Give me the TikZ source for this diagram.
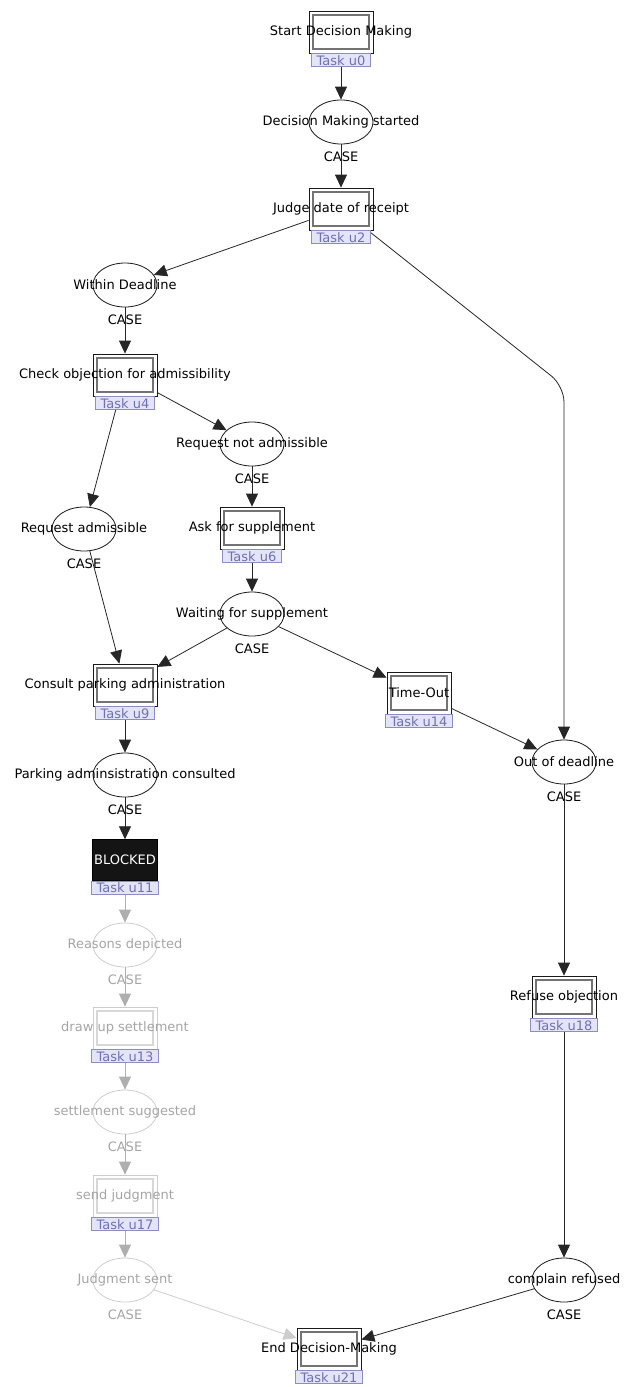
\documentclass[tikz,border=0pt]{standalone}
\usepackage{fontspec}
\setmainfont{DejaVu Sans}
\usetikzlibrary{positioning,arrows.meta,shapes.geometric}
\definecolor{tagfill}{RGB}{228,228,248}
\definecolor{tagline}{RGB}{140,140,200}
\definecolor{tagtext}{RGB}{112,112,180}
\definecolor{ghost}{RGB}{205,205,205}
\definecolor{ghosttext}{RGB}{165,165,165}
\definecolor{ghostarrow}{RGB}{175,175,175}
\begin{document}
\begin{tikzpicture}[x=1pt,y=-1pt,
 font=\fontsize{13}{15}\selectfont,
 task/.style={draw=black!90, line width=0.8pt, minimum width=64pt, minimum height=42pt, inner sep=0pt,
   path picture={\draw[black!55,line width=1.5pt] ([xshift=4pt,yshift=-4pt]path picture bounding box.north west) rectangle ([xshift=-4pt,yshift=4pt]path picture bounding box.south east);}},
 oldtask/.style={draw=ghost, line width=0.8pt, minimum width=64pt, minimum height=42pt, inner sep=0pt,
   path picture={\draw[ghost!80,line width=1.5pt] ([xshift=4pt,yshift=-4pt]path picture bounding box.north west) rectangle ([xshift=-4pt,yshift=4pt]path picture bounding box.south east);}},
 blocked/.style={draw=black, fill=black!92, text=white, minimum width=65pt, minimum height=41pt, inner sep=0pt},
 case/.style={inner sep=1pt, yshift=-6pt},
 place/.style={ellipse, draw=black!90, line width=0.8pt, minimum width=64pt, minimum height=44pt, inner sep=0pt, label={[case]below:CASE}},
 oldplace/.style={ellipse, draw=ghost, line width=0.8pt, minimum width=64pt, minimum height=44pt, inner sep=0pt, label={[case,ghosttext]below:CASE}},
 tag/.style={draw=tagline, fill=tagfill, text=tagtext, line width=0.8pt, inner xsep=5pt, inner ysep=1.5pt},
 arr/.style={draw=black!85, line width=0.8pt, -{Triangle[length=13pt,width=12pt]}},
 oldarr/.style={arr, draw=ghostarrow}]
 \useasboundingbox (0,0) rectangle (630,1387);

 % tasks and places
 \node[task, label=center:Start Decision Making] (u0) at (341,32) {};
 \node[place, label=center:Decision Making started] (started) at (341,122) {};
 \node[task, label=center:Judge date of receipt] (u2) at (341,209) {};
 \node[place, label=center:Within Deadline] (within) at (125,285) {};
 \node[task, label=center:Check objection for admissibility] (u4) at (125,375) {};
 \node[place, label=center:Request not admissible] (notadm) at (252,444) {};
 \node[place, label=center:Request admissible] (adm) at (84,529) {};
 \node[task, label=center:Ask for supplement] (u6) at (252,528) {};
 \node[place, label=center:Waiting for supplement] (waiting) at (252,614) {};
 \node[task, label=center:Consult parking administration] (u9) at (125,685) {};
 \node[task, label=center:Time-Out] (u14) at (419,693) {};
 \node[place, label=center:Out of deadline] (outdl) at (564,762) {};
 \node[place, label=center:Parking adminsistration consulted] (consulted) at (125,775) {};
 \node[blocked] (u11) at (125,860) {BLOCKED};
 \node[oldplace, label={[ghosttext]center:Reasons depicted}] (reasons) at (125,945) {};
 \node[oldtask, label={[ghosttext]center:draw up settlement}] (u13) at (125,1028) {};
 \node[oldplace, label={[ghosttext]center:settlement suggested}] (suggested) at (125,1112) {};
 \node[oldtask, label={[ghosttext]center:send judgment}] (u17) at (125,1196) {};
 \node[oldplace, label={[ghosttext]center:Judgment sent}] (sent) at (125,1280) {};
 \node[task, label=center:Refuse objection] (u18) at (564,997) {};
 \node[place, label=center:complain refused] (refused) at (564,1280) {};
 \node[task, label=center:End Decision-Making] (u21) at (329,1349) {};
 \coordinate (bend) at (564,386);

 % arcs
 \draw[arr] (u0) -- (started);
 \draw[arr] (started) -- (u2);
 \draw[arr] (u2) -- (within);
 \draw[arr, rounded corners=16pt] (u2) -- (bend) -- (outdl);
 \draw[arr] (within) -- (u4);
 \draw[arr] (u4) -- (notadm);
 \draw[arr] (u4) -- (adm);
 \draw[arr] (notadm) -- (u6);
 \draw[arr] (u6) -- (waiting);
 \draw[arr] (adm) -- (u9);
 \draw[arr] (waiting) -- (u9);
 \draw[arr] (waiting) -- (u14);
 \draw[arr] (u14) -- (outdl);
 \draw[arr] (u9) -- (consulted);
 \draw[arr] (consulted) -- (u11);
 \draw[oldarr] (u11) -- (reasons);
 \draw[oldarr] (reasons) -- (u13);
 \draw[oldarr] (u13) -- (suggested);
 \draw[oldarr] (suggested) -- (u17);
 \draw[oldarr] (u17) -- (sent);
 \draw[oldarr, draw=ghost] (sent) -- (u21);
 \draw[arr] (outdl) -- (u18);
 \draw[arr] (u18) -- (refused);
 \draw[arr] (refused) -- (u21);

 % task tags
 \node[tag, below=0pt of u0] (t0) {Task u0};
 \node[tag, below=0pt of u2] (t2) {Task u2};
 \node[tag, below=0pt of u4] (t4) {Task u4};
 \node[tag, below=0pt of u6] (t6) {Task u6};
 \node[tag, below=0pt of u9] (t9) {Task u9};
 \node[tag, below=0pt of u14] (t14) {Task u14};
 \node[tag, below=0pt of u11] (t11) {Task u11};
 \node[tag, below=0pt of u13] (t13) {Task u13};
 \node[tag, below=0pt of u17] (t17) {Task u17};
 \node[tag, below=0pt of u18] (t18) {Task u18};
 \node[tag, below=0pt of u21] (t21) {Task u21};
\end{tikzpicture}
\end{document}
